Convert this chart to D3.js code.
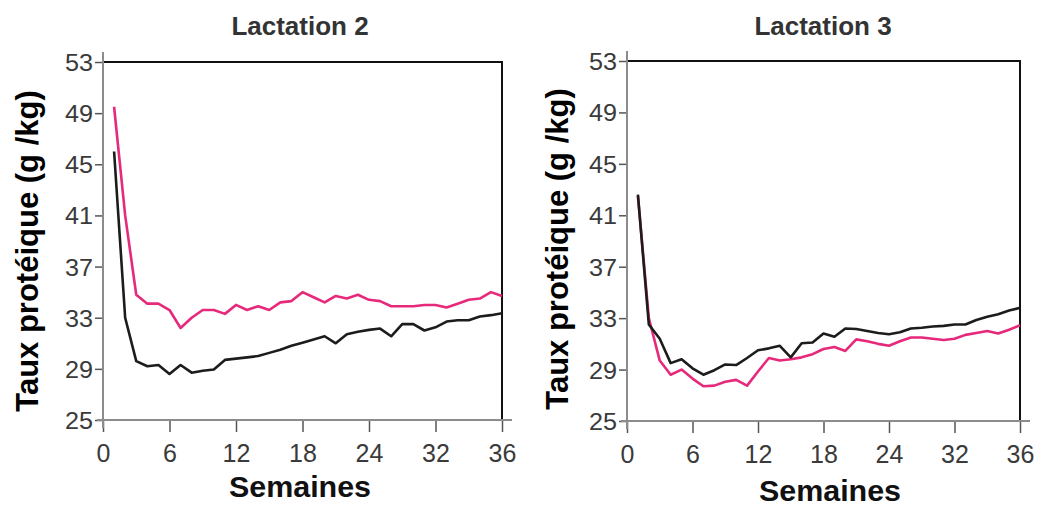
<!DOCTYPE html>
<html lang="fr">
<head>
    <meta charset="UTF-8">
    <title>Taux protéique - Lactations 2 et 3</title>
    <script src="https://d3js.org/d3.v7.min.js"></script>
    <style>
        body { margin: 0; background: #fff; }
        svg { display: block; font-family: "Liberation Sans", Arial, sans-serif; }
    </style>
</head>
<body>
    <div id="chart"></div>
    <script>
        const width = 1050;
        const height = 507;

        // semaines de lactation
        const weeks = d3.range(1, 37);

        // Lactation 2
        const lact2Pink = [49.5, 41.0, 34.8, 34.1, 34.1, 33.6, 32.2, 33.0, 33.6, 33.6, 33.3, 34.0,
                           33.6, 33.9, 33.6, 34.2, 34.3, 35.0, 34.6, 34.2, 34.7, 34.5, 34.8, 34.4,
                           34.3, 33.9, 33.9, 33.9, 34.0, 34.0, 33.8, 34.1, 34.4, 34.5, 35.0, 34.7];
        const lact2Black = [46.0, 33.0, 29.6, 29.2, 29.3, 28.6, 29.3, 28.7, 28.85, 28.95, 29.7, 29.8,
                            29.9, 30.0, 30.25, 30.5, 30.8, 31.05, 31.3, 31.55, 31.0, 31.7, 31.9, 32.05,
                            32.15, 31.55, 32.5, 32.5, 32.0, 32.25, 32.7, 32.8, 32.8, 33.1, 33.2, 33.35];

        // Lactation 3
        const lact3Pink = [42.5, 33.0, 29.7, 28.6, 29.0, 28.3, 27.7, 27.75, 28.05, 28.2, 27.75, 28.85,
                           29.9, 29.7, 29.8, 29.95, 30.2, 30.6, 30.75, 30.45, 31.35, 31.2, 31.0, 30.85,
                           31.2, 31.5, 31.5, 31.4, 31.3, 31.4, 31.7, 31.85, 32.0, 31.8, 32.1, 32.45];
        const lact3Black = [42.6, 32.5, 31.4, 29.5, 29.8, 29.1, 28.6, 28.95, 29.4, 29.35, 29.9, 30.5,
                            30.65, 30.85, 29.95, 31.05, 31.1, 31.8, 31.55, 32.2, 32.15, 32.0, 31.85, 31.75,
                            31.9, 32.2, 32.25, 32.35, 32.4, 32.5, 32.5, 32.85, 33.1, 33.3, 33.6, 33.8];

        const yTicks = [25, 29, 33, 37, 41, 45, 49, 53];
        const xTickValues = [0, 6, 12, 18, 24, 30, 36];
        const xTickLabels = ["0", "6", "12", "18", "24", "32", "36"];

        const pink = "#e6297b";
        const dark = "#1c1c1c";

        const svg = d3.select("#chart")
                      .append("svg")
                      .attr("width", width)
                      .attr("height", height);

        // texte légèrement étiré horizontalement comme dans la figure
        function stretchedText(g, x, y, txt, size, weight, sx, anchor, fill) {
            return g.append("text")
                    .attr("transform", `translate(${x},${y}) scale(${sx},1)`)
                    .attr("text-anchor", anchor)
                    .style("font-size", size + "px")
                    .style("font-weight", weight)
                    .style("fill", fill)
                    .text(txt);
        }

        function drawPanel(p) {
            const g = svg.append("g");

            const x = d3.scaleLinear().domain([0, 36]).range([p.left, p.right]);
            const y = d3.scaleLinear().domain([25, 53]).range([p.bottom, p.top]);

            // cadre noir haut + droite
            g.append("path")
             .attr("d", `M${p.left},${p.top}H${p.right}V${p.bottom}`)
             .attr("fill", "none")
             .attr("stroke", "#111")
             .attr("stroke-width", 2);

            // axe Y
            const yAxis = g.append("g")
                           .attr("transform", `translate(${p.left},0)`)
                           .call(d3.axisLeft(y).tickValues(yTicks).tickSize(8));
            yAxis.select(".domain").remove();
            yAxis.selectAll(".tick line").attr("stroke", "#555").attr("stroke-width", 1.5);
            yAxis.selectAll(".tick text").remove();
            yAxis.selectAll(".tick").each(function(d) {
                stretchedText(d3.select(this), -10, 8.5, d, 24, "normal", 1.05, "end", "#3a3a3a");
            });

            // axe X
            const xAxis = g.append("g")
                           .attr("transform", `translate(0,${p.bottom})`)
                           .call(d3.axisBottom(x).tickValues(xTickValues).tickSize(12));
            xAxis.select(".domain").remove();
            xAxis.selectAll(".tick line").attr("stroke", "#555").attr("stroke-width", 1.5);
            xAxis.selectAll(".tick text").remove();
            xAxis.selectAll(".tick").each(function(d, i) {
                stretchedText(d3.select(this), 0, 42, xTickLabels[i], 25, "normal", 1.0, "middle", "#3a3a3a");
            });

            // lignes d'axe grises
            g.append("line")
             .attr("x1", p.left).attr("x2", p.left)
             .attr("y1", p.top - 10).attr("y2", p.bottom + 8)
             .attr("stroke", "#8c8c8c").attr("stroke-width", 2);
            g.append("line")
             .attr("x1", p.left - 6).attr("x2", p.right + 10)
             .attr("y1", p.bottom).attr("y2", p.bottom)
             .attr("stroke", "#8c8c8c").attr("stroke-width", 2);

            const line = d3.line()
                           .x((d, i) => x(weeks[i]))
                           .y(d => y(d));

            g.append("path")
             .datum(p.pinkData)
             .attr("d", line)
             .attr("fill", "none")
             .attr("stroke", pink)
             .attr("stroke-width", 2.6)
             .attr("stroke-linejoin", "round");

            g.append("path")
             .datum(p.blackData)
             .attr("d", line)
             .attr("fill", "none")
             .attr("stroke", dark)
             .attr("stroke-width", 2.6)
             .attr("stroke-linejoin", "round");

            // titres
            stretchedText(g, p.titleX, 35, p.title, 26, "bold", 1.0, "middle", "#333");
            stretchedText(g, p.xLabelX, p.xLabelY, "Semaines", 29, "bold", 1.05, "middle", "#111");

            g.append("text")
             .attr("transform", `translate(${p.yLabelX},${p.yLabelY}) rotate(-90)`)
             .attr("text-anchor", "middle")
             .style("font-size", "31px")
             .style("font-weight", "bold")
             .style("fill", "#000")
             .text("Taux protéique (g /kg)");
        }

        drawPanel({
            left: 103, right: 502, top: 62, bottom: 420,
            title: "Lactation 2", titleX: 300,
            xLabelX: 300, xLabelY: 497, yLabelX: 38, yLabelY: 251,
            pinkData: lact2Pink, blackData: lact2Black
        });

        drawPanel({
            left: 627, right: 1020, top: 61, bottom: 421,
            title: "Lactation 3", titleX: 823,
            xLabelX: 830, xLabelY: 501, yLabelX: 568, yLabelY: 249,
            pinkData: lact3Pink, blackData: lact3Black
        });
    </script>
</body>
</html>
